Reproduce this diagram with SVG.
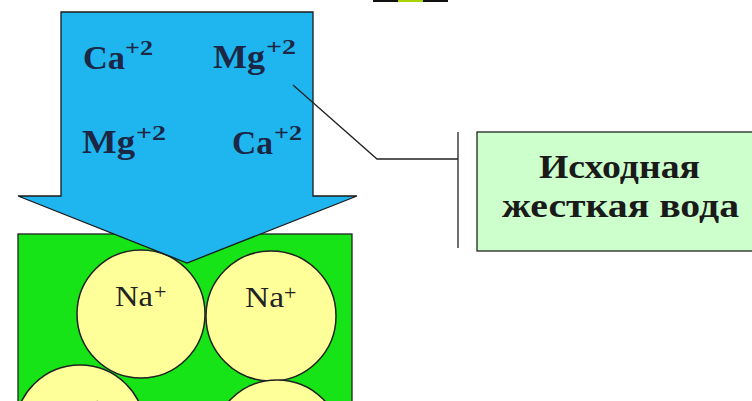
<svg xmlns="http://www.w3.org/2000/svg" width="752" height="401" viewBox="0 0 752 401">
<style>
.ion{font-family:"Liberation Serif","Times New Roman",serif;font-weight:bold;fill:#1b2745}
.sup{font-family:"Liberation Serif","Times New Roman",serif;font-weight:bold;fill:#1b2745;font-size:22px}
.na{font-family:"Liberation Serif","Times New Roman",serif;font-size:30px;fill:#222}
.nasup{font-family:"Liberation Serif","Times New Roman",serif;font-size:22px;fill:#222}
.ball{fill:#ffff99;stroke:#222;stroke-width:1.5}
.lbl{font-family:"Liberation Serif","Times New Roman",serif;font-weight:bold;font-size:34px;fill:#1a1a1a}
.ln{fill:none;stroke:#222;stroke-width:1.3}
</style>
<rect width="752" height="401" fill="#ffffff"/>
<g id="topbar">
<rect x="373" y="0" width="75" height="2" fill="#111"/>
<rect x="398" y="0" width="25" height="2" fill="#a8d400"/>
</g>
<g id="resin">
<rect x="18" y="234" width="334" height="180" fill="#16e416" stroke="#222" stroke-width="1.3"/>
<circle class="ball" cx="141" cy="314" r="64"/>
<circle class="ball" cx="271" cy="316" r="65"/>
<circle class="ball" cx="80" cy="430" r="65"/>
<circle class="ball" cx="277" cy="445" r="65"/>
<text class="na" x="115" y="306" textLength="38" lengthAdjust="spacingAndGlyphs">Na</text><text class="nasup" x="154" y="299">+</text>
<text class="na" x="245" y="307" textLength="39" lengthAdjust="spacingAndGlyphs">Na</text><text class="nasup" x="284" y="300">+</text>
<text class="na" x="52" y="420" textLength="38" lengthAdjust="spacingAndGlyphs">Na</text><text class="nasup" x="91" y="413">+</text>
</g>
<g id="arrow">
<polygon points="61,12 313,12 313,196 357,196 187,263 18,196 61,196" fill="#1fb6f0" stroke="#1a1a1a" stroke-width="1.3" stroke-linejoin="miter"/>
<text class="ion" x="83" y="69" font-size="34" textLength="42" lengthAdjust="spacingAndGlyphs">Ca</text><text class="sup" x="125" y="55" textLength="28" lengthAdjust="spacingAndGlyphs">+2</text>
<text class="ion" x="213" y="68" font-size="34" textLength="52" lengthAdjust="spacingAndGlyphs">Mg</text><text class="sup" x="266" y="54" textLength="30" lengthAdjust="spacingAndGlyphs">+2</text>
<text class="ion" x="82" y="153" font-size="34" textLength="53" lengthAdjust="spacingAndGlyphs">Mg</text><text class="sup" x="136" y="140" textLength="30" lengthAdjust="spacingAndGlyphs">+2</text>
<text class="ion" x="232" y="154" font-size="34" textLength="41" lengthAdjust="spacingAndGlyphs">Ca</text><text class="sup" x="274" y="140" textLength="28" lengthAdjust="spacingAndGlyphs">+2</text>
</g>
<g id="connectors">
<polyline class="ln" points="293,85 377,159 458,159"/>
<line class="ln" x1="458" y1="132" x2="458" y2="248"/>
</g>
<g id="label">
<rect x="477" y="132" width="290" height="119" fill="#ccffcc" stroke="#222" stroke-width="1.3"/>
<text class="lbl" x="539" y="178" textLength="161" lengthAdjust="spacingAndGlyphs">Исходная</text>
<text class="lbl" x="502" y="217" textLength="237" lengthAdjust="spacingAndGlyphs">жесткая вода</text>
</g>
</svg>
